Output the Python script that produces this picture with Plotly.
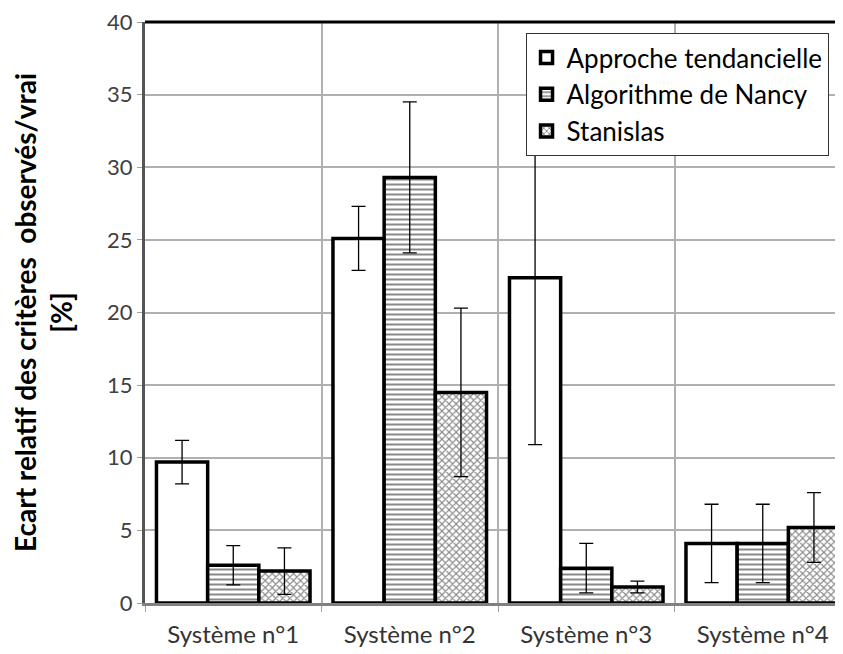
import plotly.graph_objects as go

categories = ["Système n°1", "Système n°2", "Système n°3", "Système n°4"]

approche = [9.7, 25.1, 22.4, 4.1]
approche_err = [1.5, 2.2, 11.5, 2.7]

nancy = [2.6, 29.3, 2.4, 4.1]
nancy_err = [1.35, 5.2, 1.7, 2.7]

stanislas = [2.2, 14.5, 1.1, 5.2]
stanislas_err = [1.6, 5.8, 0.4, 2.4]

series = [
    ("Approche tendancielle", approche, approche_err, ""),
    ("Algorithme de Nancy", nancy, nancy_err, "-"),
    ("Stanislas", stanislas, stanislas_err, "x"),
]

fig = go.Figure()
for i, (name, vals, errs, shape) in enumerate(series):
    fig.add_trace(
        go.Bar(
            x=categories,
            y=vals,
            name=name,
            legendgroup=f"g{i}",
            marker=dict(
                color="white",
                line=dict(color="black", width=3.5),
                pattern=dict(
                    shape=shape,
                    fgcolor="#111111",
                    bgcolor="white",
                    size=5,
                    solidity=0.4,
                ),
            ),
            error_y=dict(
                type="data",
                array=errs,
                visible=True,
                color="black",
                thickness=1.3,
                width=7,
            ),
        )
    )

# the page body has an 8px margin, margins below compensate for it
fig.update_layout(
    width=843,
    height=654,
    barmode="group",
    bargap=0.13,
    bargroupgap=0,
    plot_bgcolor="white",
    paper_bgcolor="white",
    font=dict(family="Lato, Open Sans, sans-serif", color="#404040", size=20),
    margin=dict(l=137, r=0, t=10, b=59),
    legend=dict(
        x=0.539,
        y=0.981,
        xanchor="left",
        yanchor="top",
        bgcolor="white",
        bordercolor="#333333",
        borderwidth=1,
        font=dict(size=26, color="black"),
        traceorder="normal",
        tracegroupgap=9,
        itemwidth=30,
    ),
    showlegend=True,
)

fig.update_xaxes(
    range=[-0.5, 3.5],
    tickson="boundaries",
    showgrid=True,
    gridcolor="#b0b0b0",
    gridwidth=1.5,
    showline=True,
    linecolor="#808080",
    linewidth=3,
    ticks="outside",
    ticklen=6,
    tickcolor="#a0a0a0",
    tickfont=dict(size=24, color="#333333"),
    ticklabelstandoff=8,
    mirror=False,
)

fig.update_yaxes(
    range=[0, 40],
    dtick=5,
    showgrid=True,
    gridcolor="#b0b0b0",
    gridwidth=1.5,
    showline=True,
    linecolor="#555555",
    linewidth=3,
    ticks="outside",
    ticklen=5,
    tickcolor="#a0a0a0",
    tickfont=dict(size=22, color="#404040"),
    ticklabeloverflow="allow",
    zeroline=False,
    title=dict(
        text="<b>Ecart relatif des critères  observés/vrai<br>[%]</b>",
        font=dict(size=28, color="black"),
        standoff=28,
    ),
)

# top frame line of the plot area
fig.add_shape(
    type="line",
    xref="paper",
    yref="paper",
    x0=0,
    x1=1,
    y0=1,
    y1=1,
    line=dict(color="black", width=3),
)

fig.write_html("out.html")
